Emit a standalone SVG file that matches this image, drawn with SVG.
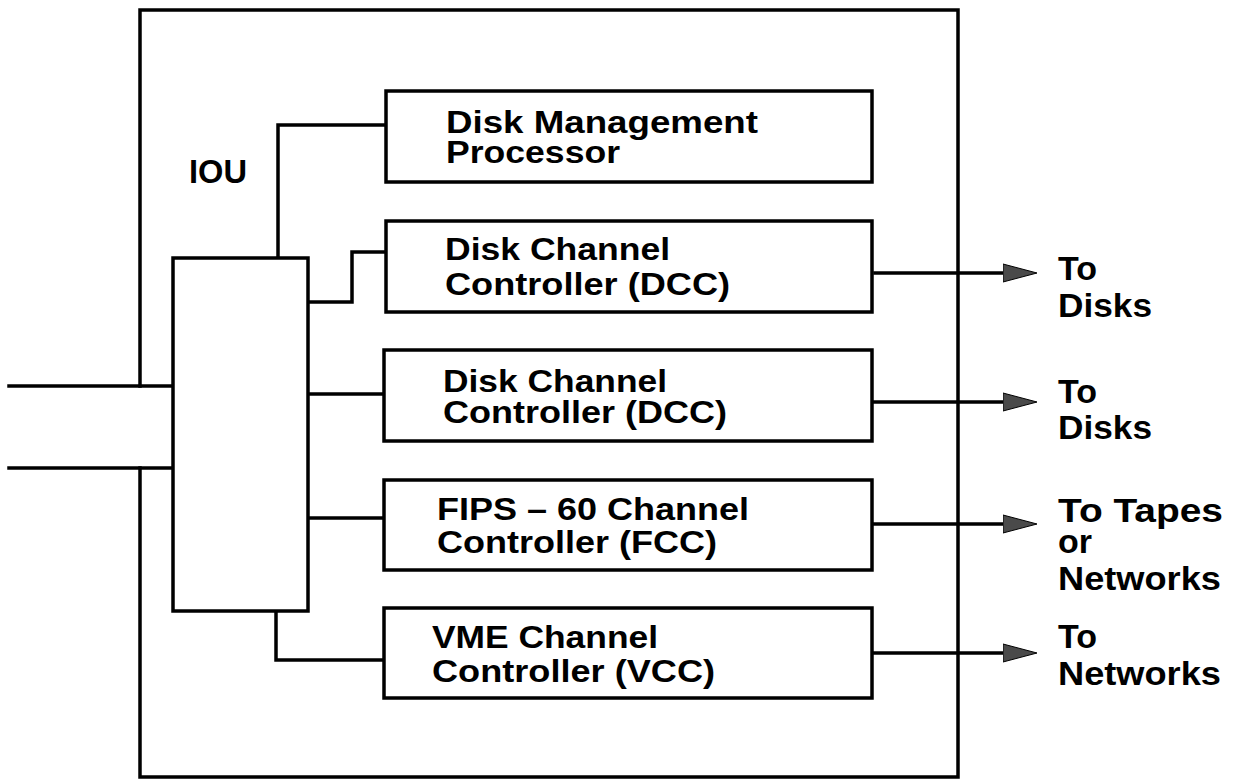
<svg xmlns="http://www.w3.org/2000/svg" width="1241" height="780" viewBox="0 0 1241 780">
<style>
.ln{fill:none;stroke:#000;stroke-width:3.5;stroke-linecap:square}
.box{fill:#fff;stroke:#000;stroke-width:3.5}
.t{font-family:"Liberation Sans",Arial,sans-serif;font-weight:bold;font-size:32px;fill:#000}
.r{font-size:34px}
</style>
<defs>
<marker id="ah" markerUnits="userSpaceOnUse" markerWidth="36" markerHeight="22" refX="0" refY="10" orient="auto">
<path d="M0,1 L34,10 L0,19 Z" fill="#4a4a4a" stroke="#000" stroke-width="1"/>
</marker>
</defs>
<rect width="1241" height="780" fill="#fff"/>
<g id="outer">
<path class="ln" d="M140,386 V10 H958 V777 H140 V468"/>
</g>
<g id="connectors">
<path class="ln" d="M9,386 H173"/>
<path class="ln" d="M9,468 H173"/>
<path class="ln" d="M278,258 V125 H386"/>
<path class="ln" d="M308,302 H352 V252 H386"/>
<path class="ln" d="M308,394 H384"/>
<path class="ln" d="M308,518 H384"/>
<path class="ln" d="M276,611 V660 H384"/>
<path class="ln" d="M875,273 H1003" marker-end="url(#ah)"/>
<path class="ln" d="M872,402 H1003" marker-end="url(#ah)"/>
<path class="ln" d="M872,524 H1003" marker-end="url(#ah)"/>
<path class="ln" d="M872,653 H1003" marker-end="url(#ah)"/>
</g>
<g id="iou">
<rect class="box" x="173" y="258" width="135" height="353"/>
<text class="t r" x="189" y="183" textLength="58" lengthAdjust="spacingAndGlyphs">IOU</text>
</g>
<g id="dmp">
<rect class="box" x="386" y="91" width="486" height="91"/>
<text class="t" x="446" y="133" textLength="312" lengthAdjust="spacingAndGlyphs">Disk Management</text>
<text class="t" x="446" y="163" textLength="174" lengthAdjust="spacingAndGlyphs">Processor</text>
</g>
<g id="dcc1">
<rect class="box" x="386" y="221" width="486" height="91"/>
<text class="t" x="445" y="260" textLength="225" lengthAdjust="spacingAndGlyphs">Disk Channel</text>
<text class="t" x="445" y="295" textLength="285" lengthAdjust="spacingAndGlyphs">Controller (DCC)</text>
</g>
<g id="dcc2">
<rect class="box" x="384" y="350" width="488" height="91"/>
<text class="t" x="443" y="392" textLength="224" lengthAdjust="spacingAndGlyphs">Disk Channel</text>
<text class="t" x="443" y="423" textLength="284" lengthAdjust="spacingAndGlyphs">Controller (DCC)</text>
</g>
<g id="fcc">
<rect class="box" x="384" y="480" width="488" height="90"/>
<text class="t" x="437" y="520" textLength="312" lengthAdjust="spacingAndGlyphs">FIPS – 60 Channel</text>
<text class="t" x="437" y="553" textLength="280" lengthAdjust="spacingAndGlyphs">Controller (FCC)</text>
</g>
<g id="vcc">
<rect class="box" x="384" y="608" width="488" height="90"/>
<text class="t" x="432" y="648" textLength="226" lengthAdjust="spacingAndGlyphs">VME Channel</text>
<text class="t" x="432" y="682" textLength="283" lengthAdjust="spacingAndGlyphs">Controller (VCC)</text>
</g>
<g id="labels">
<text class="t r" x="1058" y="280">To</text>
<text class="t r" x="1058" y="317" textLength="94" lengthAdjust="spacingAndGlyphs">Disks</text>
<text class="t r" x="1058" y="403">To</text>
<text class="t r" x="1058" y="439" textLength="94" lengthAdjust="spacingAndGlyphs">Disks</text>
<text class="t r" x="1058" y="522" textLength="165" lengthAdjust="spacingAndGlyphs">To Tapes</text>
<text class="t r" x="1058" y="553">or</text>
<text class="t r" x="1058" y="590" textLength="163" lengthAdjust="spacingAndGlyphs">Networks</text>
<text class="t r" x="1058" y="648">To</text>
<text class="t r" x="1058" y="685" textLength="163" lengthAdjust="spacingAndGlyphs">Networks</text>
</g>
</svg>
